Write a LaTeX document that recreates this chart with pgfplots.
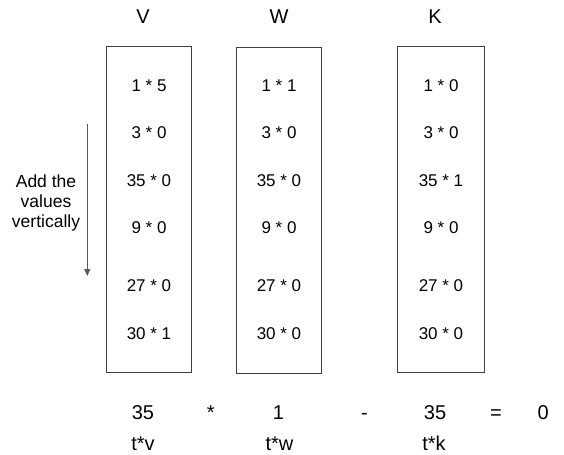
\documentclass[border=0pt]{standalone}
\usepackage{fontspec}
\setmainfont{Liberation Sans}
\usepackage{pgfplots}
\usepackage{pgfplotstable}
\pgfplotsset{compat=1.18}
\usetikzlibrary{arrows.meta}

% cells inside the three boxes (x = box centre, y = baseline, pixels from top)
\pgfplotstableread[col sep=comma]{
x,y,label
149,91.5,1 * 5
149,138,3 * 0
149,186,35 * 0
149,233.5,9 * 0
149,291.5,27 * 0
149,339,30 * 1
279,91.5,1 * 1
279,138,3 * 0
279,186,35 * 0
279,233.5,9 * 0
279,291.5,27 * 0
279,339,30 * 0
441,91.5,1 * 0
441,138,3 * 0
441,186,35 * 1
441,233.5,9 * 0
441,291.5,27 * 0
441,339,30 * 0
}\cells

\pgfplotstableread[col sep=comma]{
x,y,label
143,24,V
279,24,W
435,24,K
143,419,35
210.8,419,*
278.5,419,1
364.4,419,-
435,419,35
496,419,=
543.3,419,0
143,450,t*v
279.5,450,t*w
434,450,t*k
}\big

\pgfplotstableread[col sep=comma]{
x,y,label
46,187,Add the
46,207,values
46,227,vertically
}\side

\begin{document}
\begin{tikzpicture}
\begin{axis}[
    scale only axis,
    width=564bp, height=455bp,
    xmin=0, xmax=564, ymin=0, ymax=455,
    y dir=reverse,
    hide axis,
    clip=false,
    boxline/.style={draw=black!75, line width=1bp, line cap=rect, mark=none},
    txt/.style={only marks, mark=none,
        nodes near coords, point meta=explicit symbolic,
        nodes near coords align={anchor=base},
        every node near coord/.append style={inner sep=0pt, text=black, font=#1}},
]
% frame for the picture size
\addplot[draw=none, mark=none] coordinates {(0,0) (564,455)};

% the three boxes
\addplot[boxline] coordinates {(106,46.7) (191.7,46.7) (191.7,372.3) (106,372.3) (106,46.7)};
\addplot[boxline] coordinates {(236,48) (321.7,48) (321.7,373.7) (236,373.7) (236,48)};
\addplot[boxline] coordinates {(397.7,46.7) (484,46.7) (484,372.3) (397.7,372.3) (397.7,46.7)};

% arrow
\addplot[draw=black!65, line width=1bp, mark=none,
    -{Triangle[width=6bp,length=7bp]}] coordinates {(87.3,124) (87.3,276)};

\addplot[txt={\fontsize{17bp}{19bp}\selectfont}] table[x=x, y=y, meta=label] {\cells};
\addplot[txt={\fontsize{20bp}{24bp}\selectfont}] table[x=x, y=y, meta=label] {\big};
\addplot[txt={\fontsize{17.5bp}{20bp}\selectfont}] table[x=x, y=y, meta=label] {\side};
\end{axis}
\end{tikzpicture}
\end{document}
